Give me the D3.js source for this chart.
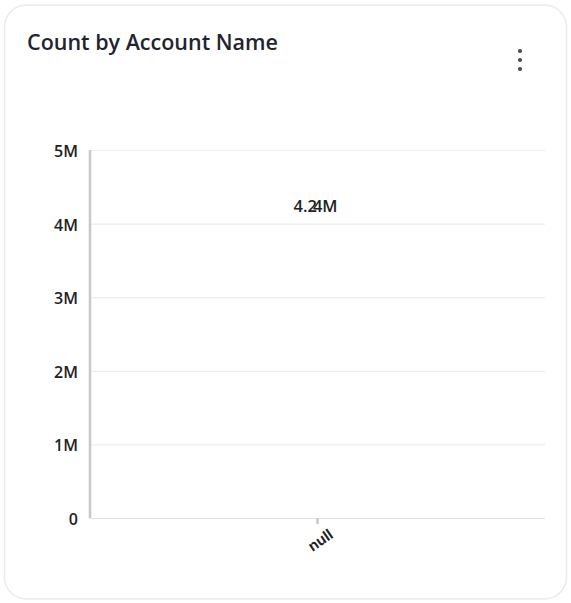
<!DOCTYPE html>
<html>
<head>
<meta charset="utf-8">
<script src="https://cdn.jsdelivr.net/npm/d3@7"></script>
<style>
  html, body { margin: 0; padding: 0; background: #fff; }
  body { width: 571px; height: 603px; overflow: hidden; font-family: "Open Sans", "Noto Sans", sans-serif; }
</style>
</head>
<body>
<script>
// data
const categories = ["null"];
const counts = [4240000];
const yTicks = [0, 1000000, 2000000, 3000000, 4000000, 5000000];

const W = 571, H = 603;
const margin = {top: 150, right: 26, bottom: 85, left: 90};
const width = W - margin.left - margin.right;
const height = H - margin.top - margin.bottom;

const svg = d3.select("body").append("svg")
  .attr("width", W)
  .attr("height", H);

// card
svg.append("rect")
  .attr("x", 4.5).attr("y", 5)
  .attr("width", 562).attr("height", 594)
  .attr("rx", 22)
  .attr("fill", "#fff")
  .attr("stroke", "#ebebeb")
  .attr("stroke-width", 1.5);

svg.append("text")
  .attr("x", 27).attr("y", 50)
  .attr("font-size", 21.5)
  .attr("font-weight", 600)
  .attr("fill", "#1f2430")
  .text("Count by Account Name");

// kebab menu
svg.selectAll(".dot")
  .data([0, 1, 2])
  .enter().append("circle")
    .attr("cx", 520)
    .attr("cy", d => 51 + d * 9)
    .attr("r", 2.1)
    .attr("fill", "#4a4a4a");

const g = svg.append("g")
  .attr("transform", `translate(${margin.left}, ${margin.top})`);

let x = d3.scaleBand()
  .range([0, width])
  .padding(0.5)
  .domain(categories);
let y = d3.scaleLinear()
  .range([height, 0])
  .domain([0, 5000000]);

const fmt = v => v === 0 ? "0" : d3.format("~s")(v);

// grid
g.append("g")
  .selectAll("line")
  .data(yTicks)
  .enter().append("line")
    .attr("x1", 0).attr("x2", width)
    .attr("y1", d => y(d) + 0.5).attr("y2", d => y(d) + 0.5)
    .attr("stroke", d => d === 0 ? "#e2e3ea" : "#edeef3")
    .attr("stroke-width", 1.2);

// bars (transparent)
g.selectAll(".bar")
  .data(counts)
  .enter().append("rect")
    .attr("class", "bar")
    .attr("x", (d, i) => x(categories[i]))
    .attr("y", d => y(d))
    .attr("width", x.bandwidth())
    .attr("height", d => height - y(d))
    .attr("fill", "#fff")
    .attr("fill-opacity", 0);

// value labels (glyphs overlap as in the source)
g.selectAll(".lbl")
  .data(counts)
  .enter().append("text")
    .attr("class", "lbl")
    .attr("x", (d, i) => x(categories[i]) + x.bandwidth() / 2 - 2)
    .attr("y", d => y(d) + 6)
    .attr("text-anchor", "middle")
    .attr("font-size", 16.5)
    .attr("font-weight", 600)
    .attr("fill", "#222")
    .attr("dx", "0 0 0 -4 0")
    .text(d => d3.format(".3s")(d));

// y axis
const yAxis = g.append("g")
  .call(d3.axisLeft(y).tickValues(yTicks).tickFormat(fmt).tickSize(0).tickPadding(12));
yAxis.select(".domain")
  .attr("stroke", "#c8c8cc")
  .attr("stroke-width", 2.5)
  .attr("d", `M0,0V${height}`);
yAxis.selectAll("text")
  .attr("font-size", 16)
  .attr("font-weight", 600)
  .attr("fill", "#222")
  .attr("dy", "0.4em")
  .attr("font-family", "Open Sans, sans-serif");

// x axis
const xAxis = g.append("g")
  .attr("transform", `translate(0, ${height})`)
  .call(d3.axisBottom(x).tickSize(6).tickPadding(4));
xAxis.select(".domain").remove();
xAxis.selectAll("line")
  .attr("stroke", "#c8c8cc")
  .attr("stroke-width", 2.5);
xAxis.selectAll("text")
  .attr("font-size", 15)
  .attr("font-weight", 600)
  .attr("fill", "#222")
  .attr("text-anchor", "end")
  .attr("transform", "translate(5, 2) rotate(-35)")
  .attr("dy", "0.7em");
</script>
</body>
</html>
